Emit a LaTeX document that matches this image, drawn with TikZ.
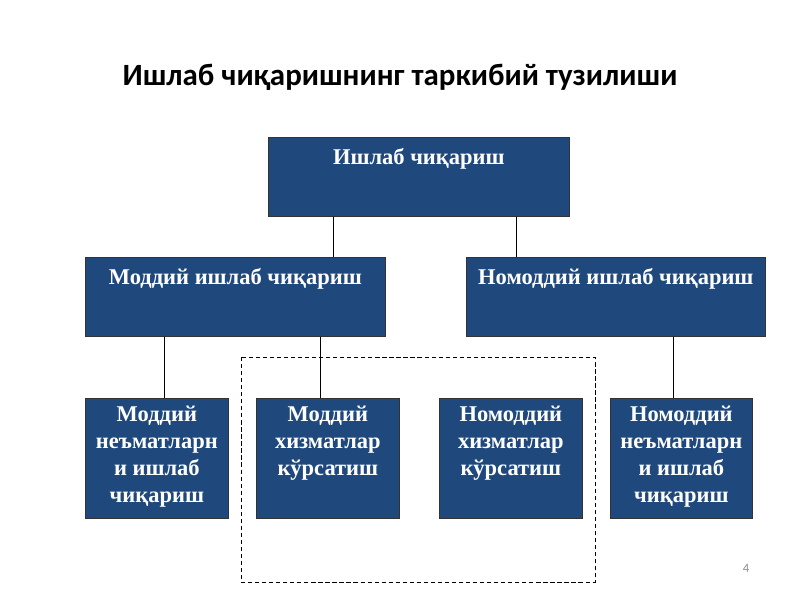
\documentclass[tikz,border=0pt]{standalone}
\usepackage{fontspec}
\setmainfont{Liberation Serif}
\newfontfamily\titlefont{Carlito}

\begin{document}
\begin{tikzpicture} [
            x=0.025cm,
            y=-0.025cm,
            box/.style = {draw=black!80,fill=boxblue,line width=0.5pt,anchor=north west,inner sep=0pt},
            box text/.style = {text=white,font=\bfseries\fontsize{16}{19.2}\selectfont,align=center,anchor=north,inner sep=0pt,execute at begin node=\strut},
            edge/.style = {draw,line width=0.5pt,-},
            group/.style = {draw,line width=0.6pt,dash pattern=on 3pt off 2pt}
        ]
        \definecolor{boxblue}{RGB}{31,73,125}
        \useasboundingbox (0,0) rectangle (800,600);
        % First the title
        \node[font=\titlefont\bfseries\fontsize{22}{26}\selectfont] (title) at (400,77) {Ишлаб чиқаришнинг таркибий тузилиши};
        % the boxes with their texts
        \foreach \pos/\w/\h/\name/\txt in {
                {(268,137)/301/79/prod/Ишлаб чиқариш},
                {(85,257)/300/79/mat/Моддий ишлаб чиқариш},
                {(466,257)/299/79/nonmat/Номоддий ишлаб чиқариш},
                {(85,398)/143/120/goods/Моддий\\неъматларн\\и ишлаб\\чиқариш},
                {(256,398)/143/120/matserv/Моддий\\хизматлар\\кўрсатиш},
                {(439,398)/143/120/nonserv/Номоддий\\хизматлар\\кўрсатиш},
                {(610,398)/142/120/nongoods/Номоддий\\неъматларн\\и ишлаб\\чиқариш}} {
            \node[box,minimum width=\w*0.025cm,minimum height=\h*0.025cm] (\name) at \pos {};
            \node[box text] (\name-text) at ([yshift=-8*0.025cm]\name.north) {\txt};
        }
        % Connect the boxes
        \foreach \x/\source/\dest in {
                333/prod/mat, 516/prod/nonmat, 164/mat/goods, 320/mat/matserv, 673/nonmat/nongoods}
            \path[edge] (\x,0 |- \source.south) -- (\x,0 |- \dest.north);
        % dashed frame round the services
        \draw[group] (241,357) rectangle (595,582);
        \node[text=black!45,font=\titlefont\fontsize{9}{10}\selectfont] (pagenum) at (746,568) {4};
    \end{tikzpicture}
\end{document}
